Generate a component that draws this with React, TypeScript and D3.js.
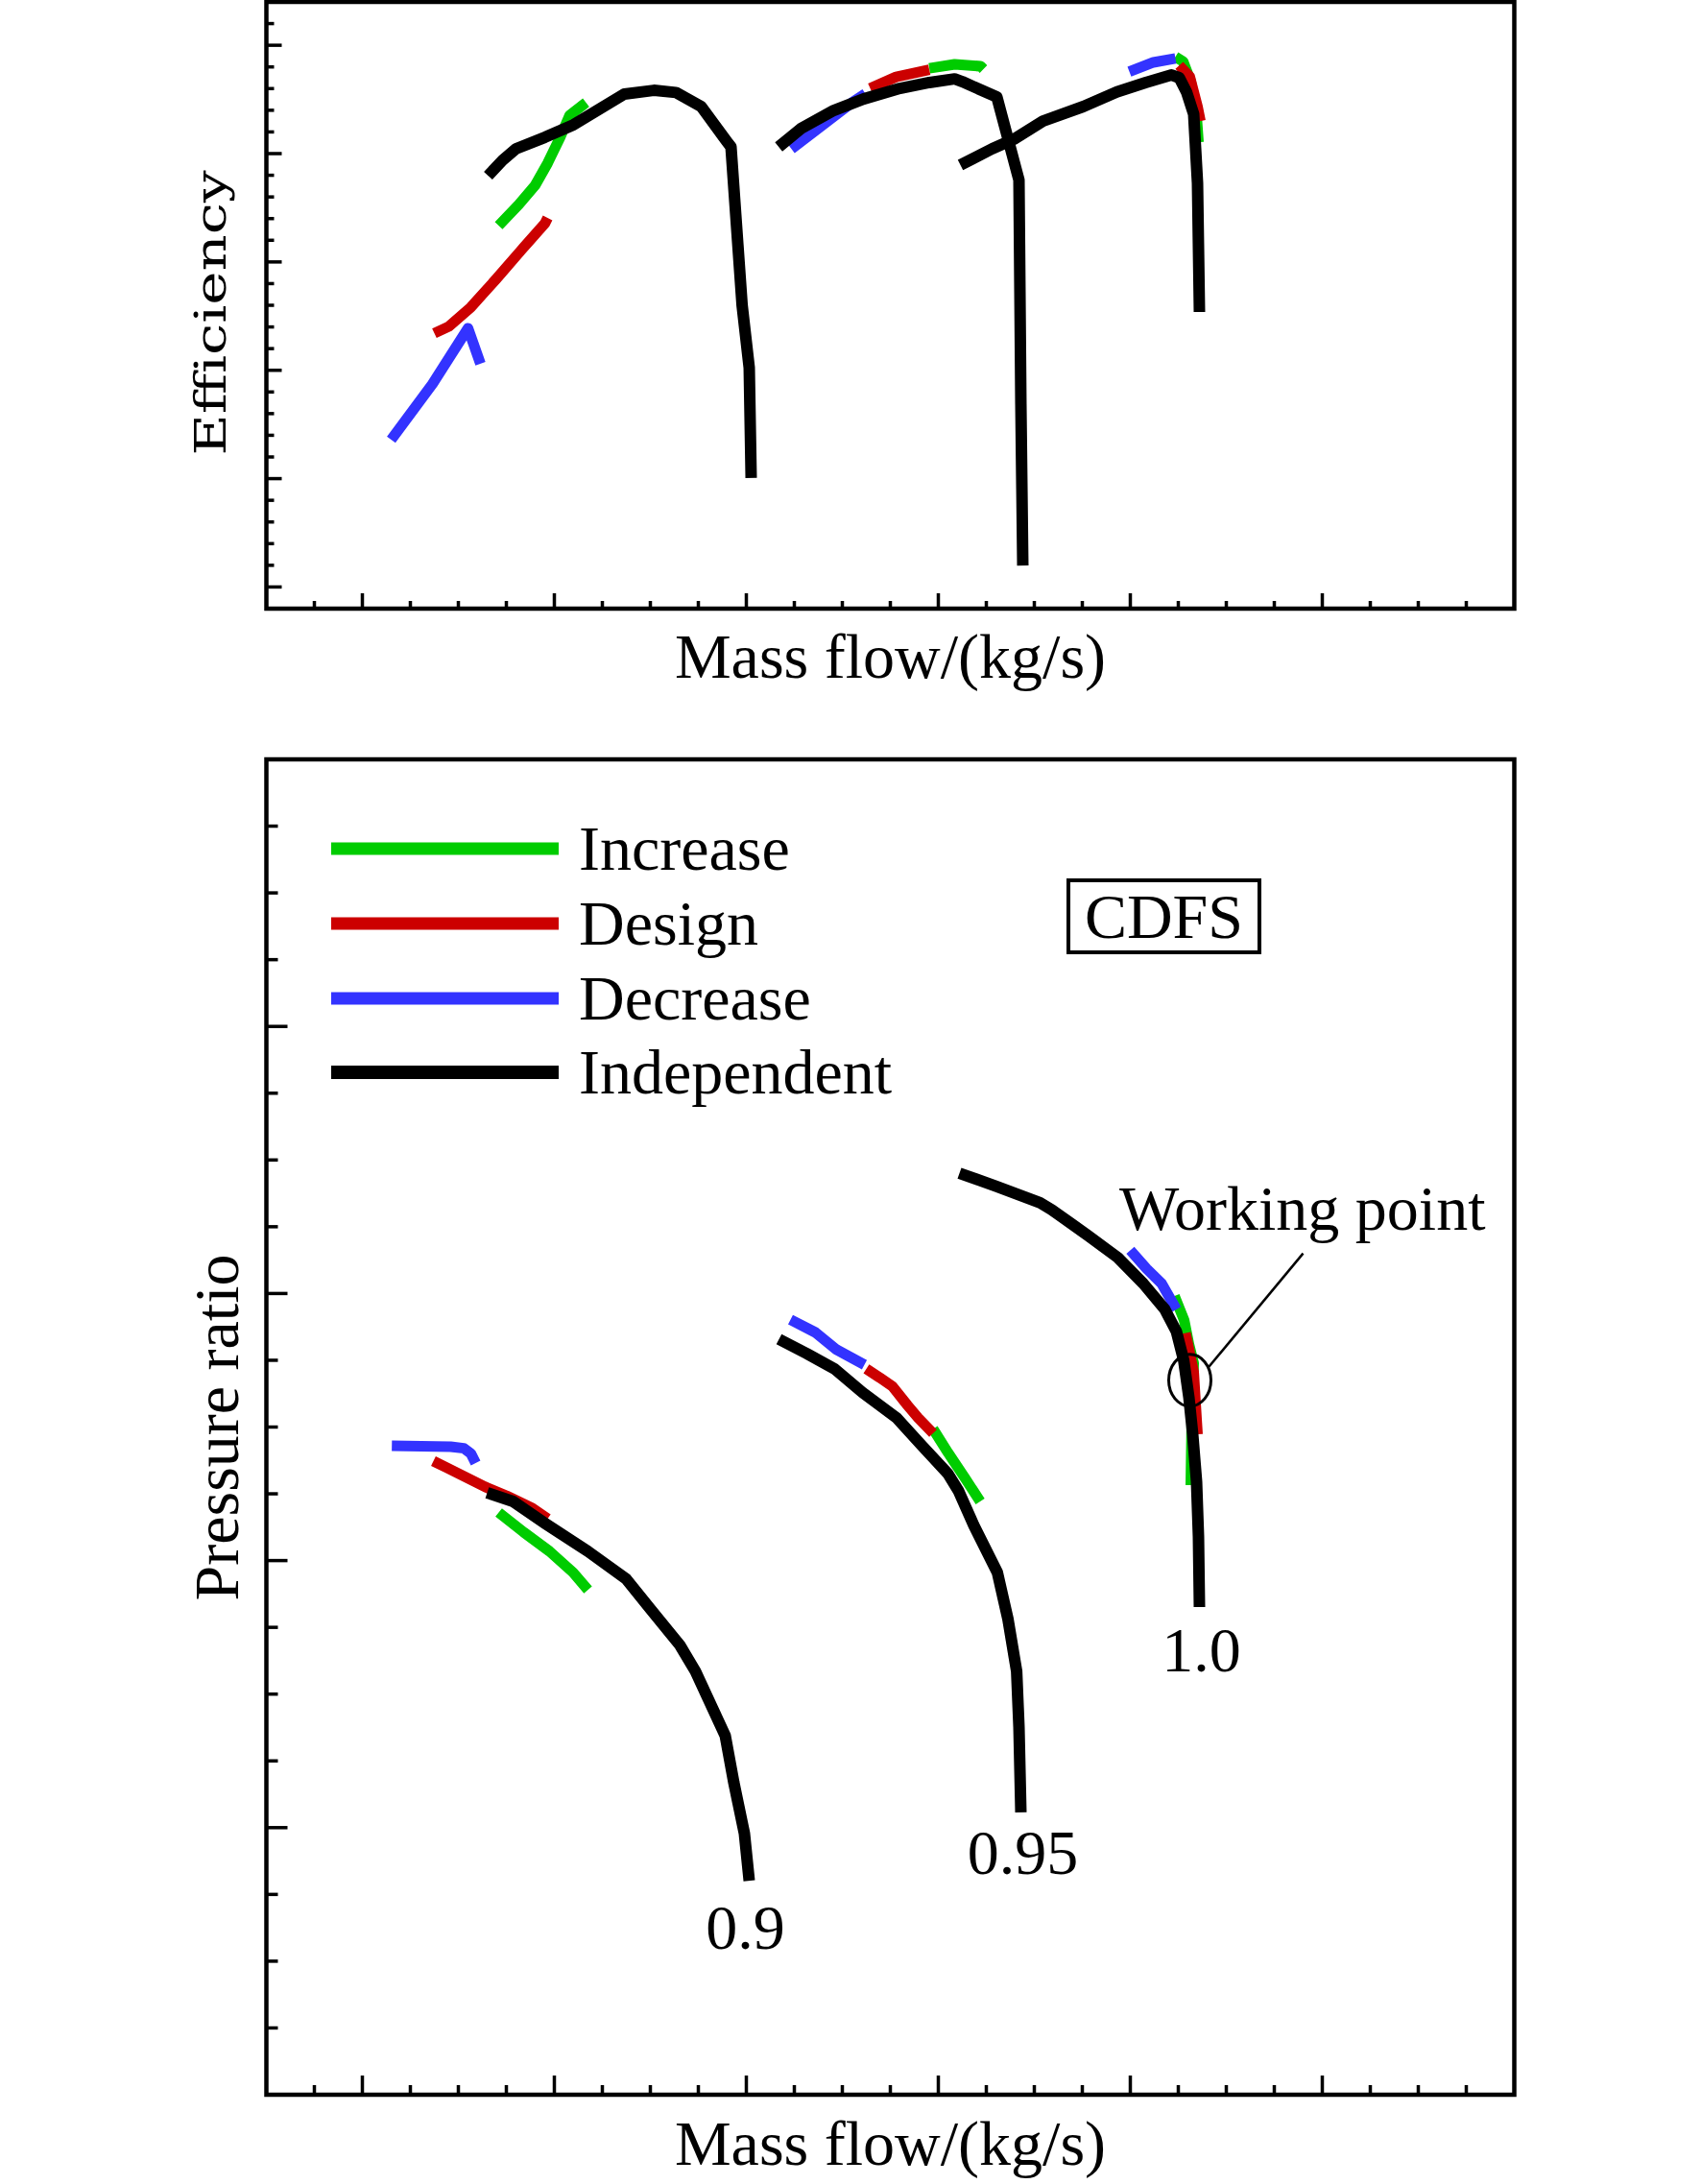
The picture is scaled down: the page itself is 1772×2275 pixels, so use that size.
import React from 'react';
import * as d3 from 'd3';

// ---------- canvas ----------
const W = 1772;
const H = 2275;

// ---------- axes (nominal, unlabeled in the source) ----------
const massFlowDomain = [0.5, 7.0];
const effDomain = [0.59, 0.87];
const prDomain = [1.0, 2.0];

// ---------- legend ----------
const legendNames = ['Increase', 'Design', 'Decrease', 'Independent'];
const legendColors = ['#00cc00', '#cc0000', '#3333ff', '#000000'];
const speedLabels = ['0.9', '0.95', '1.0'];

// ---------- Efficiency chart data [mass flow, efficiency] ----------
const effIncrease090 = [[1.71, 0.7668], [1.815, 0.7765], [1.9, 0.7854], [1.965, 0.7956], [2.03, 0.8075], [2.08, 0.8177], [2.165, 0.8235]];
const effDesign090 = [[1.375, 0.7171], [1.45, 0.7202], [1.565, 0.7291], [1.7, 0.7424], [1.83, 0.7557], [1.95, 0.7677], [1.965, 0.7703]];
const effDecrease090 = [[1.15, 0.668], [1.365, 0.6937], [1.55, 0.7194], [1.615, 0.703]];
const effIndep090 = [[1.655, 0.7898], [1.73, 0.7969], [1.8, 0.8022], [1.95, 0.8075], [2.1, 0.8133], [2.365, 0.8275], [2.518, 0.8292], [2.633, 0.8282], [2.765, 0.8217], [2.89, 0.8066], [2.92, 0.8031], [2.94, 0.7778], [2.978, 0.73], [3.015, 0.7012], [3.025, 0.6503]];

const effIncrease095 = [[3.953, 0.8394], [4.085, 0.8412], [4.22, 0.8403], [4.235, 0.839]];
const effDesign095 = [[3.645, 0.8301], [3.78, 0.8354], [3.953, 0.8387]];
const effDecrease095 = [[3.235, 0.8022], [3.4, 0.8133], [3.55, 0.8235], [3.62, 0.8276]];
const effIndep095 = [[3.1685, 0.8031], [3.2835, 0.8115], [3.455, 0.8199], [3.61, 0.8252], [3.8, 0.8301], [3.953, 0.8328], [4.085, 0.8345], [4.125, 0.8332], [4.305, 0.8261], [4.42, 0.7878], [4.43, 0.6844], [4.44, 0.6099]];

const effIncrease100 = [[5.235, 0.8447], [5.275, 0.8425], [5.315, 0.8332], [5.345, 0.8177], [5.355, 0.8053]];
const effDesign100 = [[5.255, 0.8407], [5.31, 0.8354], [5.35, 0.8217], [5.365, 0.815]];
const effDecrease100 = [[4.995, 0.8378], [5.12, 0.8421], [5.235, 0.8439]];
const effIndep100 = [[4.115, 0.7947], [4.28, 0.8022], [4.393, 0.8066], [4.545, 0.815], [4.755, 0.8217], [4.93, 0.8285], [5.08, 0.8328], [5.215, 0.8363], [5.255, 0.835], [5.2925, 0.8285], [5.33, 0.8182], [5.35, 0.7863], [5.36, 0.7269]];

// ---------- Pressure ratio chart data [mass flow, pressure ratio] ----------
const prIncrease090 = [[1.71, 1.436], [1.84, 1.4213], [1.975, 1.4069], [2.0975, 1.3911], [2.175, 1.3781]];
const prDesign090 = [[1.37, 1.4745], [1.44, 1.4695], [1.64, 1.4551], [1.75, 1.4486], [1.885, 1.4393], [1.965, 1.4313]];
const prDecrease090 = [[1.1535, 1.486], [1.46, 1.4853], [1.5285, 1.4841], [1.565, 1.4802], [1.59, 1.473]];
const prIndep090 = [[1.65, 1.4508], [1.785, 1.4443], [1.9525, 1.4278], [2.175, 1.4069], [2.375, 1.3861], [2.5, 1.3638], [2.655, 1.3364], [2.735, 1.317], [2.89, 1.2689], [2.935, 1.2336], [2.99, 1.1955], [3.015, 1.1603]];

const prIncrease095 = [[3.9725, 1.4986], [4.05, 1.4809], [4.14, 1.4615], [4.218, 1.4443]];
const prDesign095 = [[3.625, 1.5435], [3.695, 1.537], [3.76, 1.5306], [3.84, 1.5162], [3.895, 1.5068], [3.9725, 1.4953]];
const prDecrease095 = [[3.23, 1.5804], [3.36, 1.5708], [3.47, 1.5579], [3.615, 1.5467]];
const prIndep095 = [[3.17, 1.5658], [3.315, 1.555], [3.46, 1.5435], [3.605, 1.5259], [3.783, 1.5068], [3.915, 1.486], [4.05, 1.4651], [4.105, 1.4522], [4.185, 1.4263], [4.3075, 1.3911], [4.363, 1.3559], [4.408, 1.317], [4.42, 1.2753], [4.43, 1.2114]];

const prIncrease100 = [[5.23, 1.5981], [5.28, 1.5802], [5.305, 1.5622], [5.33, 1.5478], [5.32, 1.5047], [5.315, 1.4565]];
const prDesign100 = [[5.2875, 1.5704], [5.33, 1.5413], [5.345, 1.5058], [5.35, 1.4946]];
const prDecrease100 = [[5.0, 1.6323], [5.085, 1.6185], [5.163, 1.6075], [5.24, 1.5881]];
const prIndep100 = [[4.11, 1.6901], [4.3, 1.6804], [4.53, 1.6679], [4.59, 1.6628], [4.78, 1.6434], [4.935, 1.6269], [5.0675, 1.6075], [5.18, 1.5881], [5.24, 1.5715], [5.278, 1.55], [5.305, 1.5223], [5.325, 1.4946], [5.345, 1.459], [5.355, 1.4177], [5.36, 1.3652]];

// working point annotation (data coordinates)
const workingPoint = [5.31, 1.535];
const leaderEnd = [5.9, 1.63];

// speed label anchors (data coordinates)
const speedLabelPos = [[2.995, 1.109], [4.44, 1.165], [5.37, 1.317]];

const FONT = "'Liberation Serif', 'Times New Roman', serif";

const x = d3.scaleLinear().domain(massFlowDomain).range([277.5, 1577.5]);
const yEff = d3.scaleLinear().domain(effDomain).range([634, 2]);
const yPr = d3.scaleLinear().domain(prDomain).range([2182, 791]);

const xTicks = d3.range(3, 28).map((i) => ({ v: i * 0.25, major: i % 4 === 0 }));
const effTicks = d3.range(60, 87).map((i) => ({ v: i / 100, major: i % 5 === 0 }));
const prTicks = d3.range(21, 40).map((i) => ({ v: i / 20, major: i % 4 === 0 }));

type Pt = number[];

function Curves({ groups, y }: { groups: Pt[][][]; y: d3.ScaleLinear<number, number> }) {
  const line = d3
    .line<Pt>()
    .x((d) => x(d[0]))
    .y((d) => y(d[1]));
  return (
    <g fill="none" strokeLinejoin="round" strokeLinecap="butt">
      {groups.map((series, si) =>
        series.map((pts, k) => (
          <path
            key={`${si}-${k}`}
            d={line(pts) || ''}
            stroke={legendColors[si]}
            strokeWidth={si === 3 ? 12 : 11}
          />
        ))
      )}
    </g>
  );
}

function Frame({
  y,
  ticks,
  yMaj,
  yMin,
  xMaj,
  xMin,
}: {
  y: d3.ScaleLinear<number, number>;
  ticks: { v: number; major: boolean }[];
  yMaj: number;
  yMin: number;
  xMaj: number;
  xMin: number;
}) {
  const [y0, y1] = y.range();
  const x0 = x(massFlowDomain[0]);
  const x1 = x(massFlowDomain[1]);
  return (
    <g stroke="#000" fill="none">
      {ticks.map((t, i) => (
        <line key={'y' + i} x1={x0} x2={x0 + (t.major ? yMaj : yMin)} y1={y(t.v)} y2={y(t.v)} strokeWidth={3.5} />
      ))}
      {xTicks.map((t, i) => (
        <line key={'x' + i} x1={x(t.v)} x2={x(t.v)} y1={y0} y2={y0 - (t.major ? xMaj : xMin)} strokeWidth={3.5} />
      ))}
      <rect x={x0} y={y1} width={x1 - x0} height={y0 - y1} strokeWidth={4.5} />
    </g>
  );
}

export default function App() {
  const effGroups = [
    [effIncrease090, effIncrease095, effIncrease100],
    [effDesign090, effDesign095, effDesign100],
    [effDecrease090, effDecrease095, effDecrease100],
    [effIndep090, effIndep095, effIndep100],
  ];
  const prGroups = [
    [prIncrease090, prIncrease095, prIncrease100],
    [prDesign090, prDesign095, prDesign100],
    [prDecrease090, prDecrease095, prDecrease100],
    [prIndep090, prIndep095, prIndep100],
  ];
  const legendY = [884, 962, 1040, 1117];
  const cx = (x(massFlowDomain[0]) + x(massFlowDomain[1])) / 2;

  return (
    <>
      <style>{`body{margin:0;}`}</style>
      <svg width={W} height={H} viewBox={`0 0 ${W} ${H}`} style={{ display: 'block', background: '#fff' }}>
        <rect x={0} y={0} width={W} height={H} fill="#fff" />

        {/* ---------- Efficiency chart ---------- */}
        <Curves groups={effGroups} y={yEff} />
        <Frame y={yEff} ticks={effTicks} yMaj={16} yMin={8} xMaj={16} xMin={8} />
        <text
          transform={`translate(235, 326) rotate(-90)`}
          textAnchor="middle"
          fontFamily="'DejaVu Serif', serif"
          fontSize={44}
          textLength={297}
          lengthAdjust="spacingAndGlyphs"
        >
          Efficiency
        </text>
        <text x={cx} y={706} textAnchor="middle" fontFamily={FONT} fontSize={66}>
          Mass flow/(kg/s)
        </text>

        {/* ---------- Pressure ratio chart ---------- */}
        <Curves groups={prGroups} y={yPr} />
        <Frame y={yPr} ticks={prTicks} yMaj={22} yMin={12} xMaj={20} xMin={10} />
        <text transform={`translate(248, 1487) rotate(-90)`} textAnchor="middle" fontFamily={FONT} fontSize={66}>
          Pressure ratio
        </text>
        <text x={cx} y={2255} textAnchor="middle" fontFamily={FONT} fontSize={66}>
          Mass flow/(kg/s)
        </text>

        {/* legend */}
        {legendNames.map((name, i) => (
          <g key={name}>
            <line x1={345} x2={582} y1={legendY[i]} y2={legendY[i]} stroke={legendColors[i]} strokeWidth={i === 3 ? 14 : 13} />
            <text x={603} y={legendY[i] + 22} fontFamily={FONT} fontSize={66}>
              {name}
            </text>
          </g>
        ))}

        {/* CDFS box */}
        <rect x={1113} y={917} width={199} height={75} fill="none" stroke="#000" strokeWidth={4} />
        <text x={1212.5} y={977} textAnchor="middle" fontFamily={FONT} fontSize={66}>
          CDFS
        </text>

        {/* working point annotation */}
        <ellipse cx={x(workingPoint[0])} cy={yPr(workingPoint[1])} rx={22} ry={27} fill="none" stroke="#000" strokeWidth={3} />
        <line
          x1={x(workingPoint[0]) + 19}
          y1={yPr(workingPoint[1]) - 13}
          x2={x(leaderEnd[0])}
          y2={yPr(leaderEnd[1])}
          stroke="#000"
          strokeWidth={2.5}
        />
        <text x={1166} y={1281} fontFamily={FONT} fontSize={66}>
          Working point
        </text>

        {/* speed labels */}
        {speedLabels.map((s, i) => (
          <text
            key={s}
            x={x(speedLabelPos[i][0])}
            y={yPr(speedLabelPos[i][1])}
            textAnchor="middle"
            fontFamily={FONT}
            fontSize={66}
          >
            {s}
          </text>
        ))}
      </svg>
    </>
  );
}
